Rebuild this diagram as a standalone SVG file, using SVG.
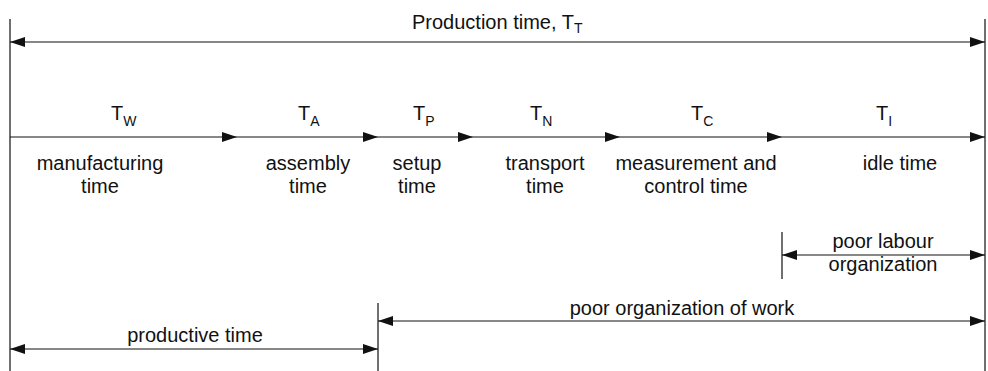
<svg xmlns="http://www.w3.org/2000/svg" width="988" height="371" viewBox="0 0 988 371">
  <style>
    text { font-family: "Liberation Sans", Arial, sans-serif; font-size: 20px; fill: #111; }
    .c { text-anchor: middle; }
    .sub { font-size: 14px; }
    .ln { stroke: #111; stroke-width: 1.2; fill: none; }
    .bd { stroke: #333; stroke-width: 1.4; fill: none; }
  </style>
  <defs>
    <marker id="head" markerUnits="userSpaceOnUse" markerWidth="16" markerHeight="11" refX="15" refY="5" orient="auto-start-reverse">
      <path d="M0,0 L15,5 L0,10 z" fill="#111"/>
    </marker>
  </defs>
  <rect width="988" height="371" fill="#fff"/>

  <!-- boundary ticks -->
  <g id="boundaries">
    <line class="bd" x1="10" y1="19" x2="10" y2="371"/>
    <line class="bd" x1="985" y1="19" x2="985" y2="371"/>
    <line class="bd" x1="378" y1="303" x2="378" y2="371"/>
    <line class="bd" x1="782" y1="232" x2="782" y2="279"/>
  </g>

  <!-- connectors -->
  <g id="connectors">
    <line class="ln" x1="10" y1="42" x2="985" y2="42" marker-start="url(#head)" marker-end="url(#head)"/>
    <line class="ln" x1="10" y1="137" x2="237" y2="137" marker-end="url(#head)"/>
    <line class="ln" x1="237" y1="137" x2="378" y2="137" marker-end="url(#head)"/>
    <line class="ln" x1="378" y1="137" x2="473" y2="137" marker-end="url(#head)"/>
    <line class="ln" x1="473" y1="137" x2="620" y2="137" marker-end="url(#head)"/>
    <line class="ln" x1="620" y1="137" x2="782" y2="137" marker-end="url(#head)"/>
    <line class="ln" x1="782" y1="137" x2="985" y2="137" marker-end="url(#head)"/>
    <line class="ln" x1="782" y1="255" x2="985" y2="255" marker-start="url(#head)" marker-end="url(#head)"/>
    <line class="ln" x1="378" y1="321" x2="985" y2="321" marker-start="url(#head)" marker-end="url(#head)"/>
    <line class="ln" x1="10" y1="349" x2="378" y2="349" marker-start="url(#head)" marker-end="url(#head)"/>
  </g>

  <g id="production-time">
    <text x="412" y="29">Production time, T<tspan class="sub" dy="4">T</tspan></text>
  </g>

  <g id="manufacturing">
    <text x="111" y="120">T<tspan class="sub" dy="6">W</tspan></text>
    <text class="c" x="100" y="170">manufacturing</text>
    <text class="c" x="100" y="193">time</text>
  </g>

  <g id="assembly">
    <text x="298" y="120">T<tspan class="sub" dy="6">A</tspan></text>
    <text class="c" x="308" y="170">assembly</text>
    <text class="c" x="308" y="193">time</text>
  </g>

  <g id="setup">
    <text x="413" y="120">T<tspan class="sub" dy="6">P</tspan></text>
    <text class="c" x="417" y="170">setup</text>
    <text class="c" x="417" y="193">time</text>
  </g>

  <g id="transport">
    <text x="530" y="120">T<tspan class="sub" dy="6">N</tspan></text>
    <text class="c" x="545" y="170">transport</text>
    <text class="c" x="545" y="193">time</text>
  </g>

  <g id="measurement">
    <text x="691" y="120">T<tspan class="sub" dy="6">C</tspan></text>
    <text class="c" x="696" y="170">measurement and</text>
    <text class="c" x="696" y="193">control time</text>
  </g>

  <g id="idle">
    <text x="876" y="120">T<tspan class="sub" dy="6">I</tspan></text>
    <text class="c" x="900" y="170">idle time</text>
  </g>

  <g id="poor-labour">
    <text class="c" x="883" y="248">poor labour</text>
    <text class="c" x="883" y="271">organization</text>
  </g>

  <g id="poor-organization">
    <text class="c" x="682" y="315">poor organization of work</text>
  </g>

  <g id="productive">
    <text class="c" x="195" y="342">productive time</text>
  </g>
</svg>
